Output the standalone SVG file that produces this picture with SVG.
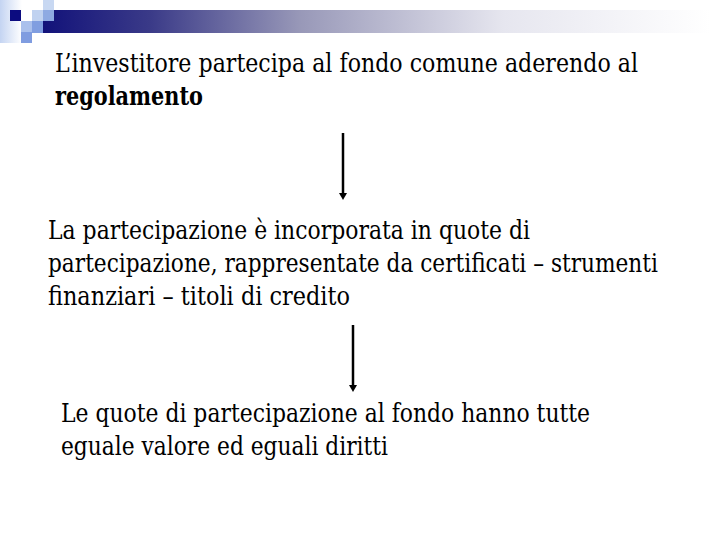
<svg xmlns="http://www.w3.org/2000/svg" width="720" height="540" viewBox="0 0 720 540">
  <defs>
    <linearGradient id="bar" x1="0" y1="0" x2="1" y2="0">
      <stop offset="0" stop-color="#12127a"/>
      <stop offset="0.16" stop-color="#3a3a88"/>
      <stop offset="0.385" stop-color="#9898b8"/>
      <stop offset="0.69" stop-color="#e6e6ef"/>
      <stop offset="1" stop-color="#ffffff"/>
    </linearGradient>
    <linearGradient id="side" x1="0" y1="0" x2="1" y2="0">
      <stop offset="0" stop-color="#c4d4f2"/>
      <stop offset="1" stop-color="#ffffff"/>
    </linearGradient>
    <marker id="arrow" markerWidth="8" markerHeight="8" refX="1" refY="4" orient="auto" markerUnits="userSpaceOnUse" viewBox="0 0 8 8">
      <path d="M0,0 L7,4 L0,8 Z" fill="#000"/>
    </marker>
    <style>
      text { font-family: 'DejaVu Serif', 'Liberation Serif', serif; font-size: 26px; fill: #000; }
      .b { font-weight: bold; }
      .conn { stroke: #000; stroke-width: 2.5; fill: none; }
    </style>
  </defs>

  <g id="decoration">
    <rect x="0" y="0" width="22" height="43" fill="url(#side)"/>
    <rect x="43" y="10" width="667" height="23" fill="url(#bar)"/>
    <rect x="10" y="10" width="11" height="11" fill="#0c0c80"/>
    <rect x="43" y="0" width="11" height="10" fill="#c8d8f2"/>
    <rect x="32" y="10" width="11" height="11" fill="#c0d2f0"/>
    <rect x="43" y="10" width="11" height="11" fill="#8eaae2"/>
    <rect x="21" y="21" width="11" height="11" fill="#aac0ec"/>
    <rect x="32" y="21" width="11" height="12" fill="#809ee0"/>
    <rect x="21" y="32" width="11" height="11" fill="#7f9ce0"/>
  </g>

  <g id="node1">
    <text transform="translate(55,72) scale(0.85,1)" x="0" y="0" textLength="685.9" lengthAdjust="spacingAndGlyphs">L’investitore partecipa al fondo comune aderendo al</text>
    <text class="b" transform="translate(55,105) scale(0.85,1)" x="0" y="0" textLength="174.1" lengthAdjust="spacingAndGlyphs">regolamento</text>
  </g>

  <g id="node2">
    <text transform="translate(48,239) scale(0.85,1)" x="0" y="0" textLength="567.1" lengthAdjust="spacingAndGlyphs">La partecipazione è incorporata in quote di</text>
    <text transform="translate(48,272) scale(0.85,1)" x="0" y="0" textLength="717.6" lengthAdjust="spacingAndGlyphs">partecipazione, rappresentate da certificati – strumenti</text>
    <text transform="translate(48,305) scale(0.85,1)" x="0" y="0" textLength="355.3" lengthAdjust="spacingAndGlyphs">finanziari – titoli di credito</text>
  </g>

  <g id="node3">
    <text transform="translate(61,422) scale(0.85,1)" x="0" y="0" textLength="622.4" lengthAdjust="spacingAndGlyphs">Le quote di partecipazione al fondo hanno tutte</text>
    <text transform="translate(61,455) scale(0.85,1)" x="0" y="0" textLength="384.7" lengthAdjust="spacingAndGlyphs">eguale valore ed eguali diritti</text>
  </g>

  <g id="connectors">
    <line class="conn" x1="343" y1="133" x2="343" y2="194" marker-end="url(#arrow)"/>
    <line class="conn" x1="353" y1="325" x2="353" y2="386" marker-end="url(#arrow)"/>
  </g>
</svg>
